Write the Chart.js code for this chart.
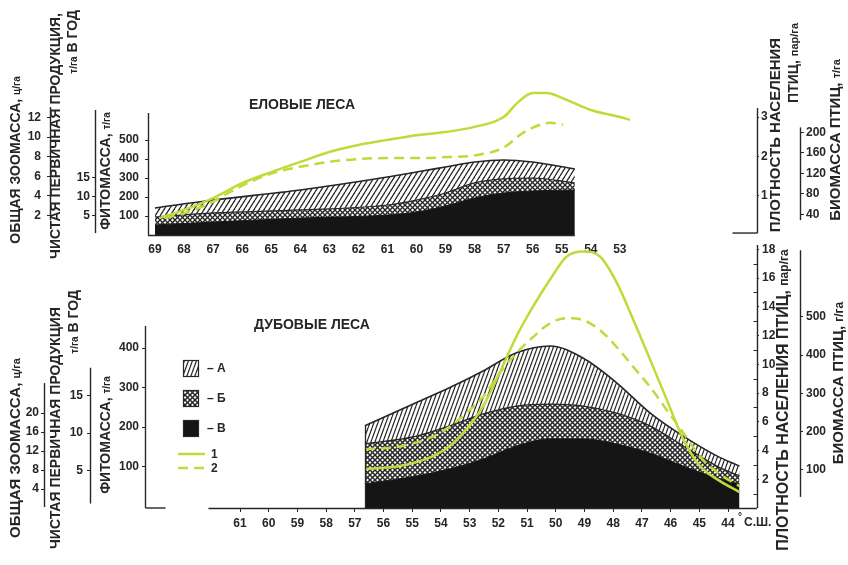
<!DOCTYPE html>
<html lang="ru">
<head>
<meta charset="utf-8">
<title>Еловые и дубовые леса</title>
<script src="https://cdn.jsdelivr.net/npm/chart.js@4.4.1/dist/chart.umd.min.js"></script>
<style>
html,body{margin:0;padding:0;background:#fff;}
body{width:848px;height:565px;position:relative;overflow:hidden;}
.panel{position:absolute;left:0;width:848px;}
#p1{top:0;height:262px;}
#p2{top:230px;height:335px;}
canvas{display:block;}
</style>
</head>
<body>
<div class="panel" id="p1"><canvas id="spruce" width="848" height="262"></canvas></div>
<div class="panel" id="p2"><canvas id="oak" width="848" height="335"></canvas></div>
<script>
// ===================== DATA =====================
// ЕЛОВЫЕ ЛЕСА (spruce forests), latitude in degrees N
const spruceLatTicks = [69,68,67,66,65,64,63,62,61,60,59,58,57,56,55,54,53];
const spruceAreaLat = [69, 67, 64, 61, 60, 59, 58, 57, 56, 54.55];
const spruceA = [142, 184, 237, 305, 332, 358, 384, 395, 384, 347];   // top of А (phytomass, t/ha)
const spruceB = [95, 116, 132, 158, 184, 221, 274, 295, 300, 274];    // top of Б
const spruceV = [53, 68, 89, 105, 121, 153, 195, 221, 232, 237];      // top of В
const spruceDensityLat = [68.85,68,67,66,65,64,63,62,61,60,59,58,57,56.5,56,55.5,55,54,53,52.65];
const spruceDensity = [0.43,0.64,0.94,1.32,1.60,1.86,2.11,2.29,2.42,2.54,2.62,2.75,3.00,3.38,3.61,3.61,3.49,3.18,3.00,2.93];
const spruceBiomassLat = [68.66,67.97,67.11,66.08,64.94,64.01,63.08,62.05,61.02,59.98,58.95,57.92,57.02,56.34,55.75,55.41,54.96];
const spruceBiomass = [33,43,62,94,121,133,142,148,150,150,152,156,170,199,215,219,215];
const spruceZooTicks = [2,4,6,8,10,12];
const spruceProdTicks = [5,10,15];
const sprucePhytoTicks = [100,200,300,400,500];
const spruceDensityTicks = [1,2,3];
const spruceBiomassTicks = [40,80,120,160,200];

// ДУБОВЫЕ ЛЕСА (oak forests)
const oakLatTicks = [61,60,59,58,57,56,55,54,53,52,51,50,49,48,47,46,45,44];
const oakAreaLat = [56.65,54.85,53.69,52.53,51.37,50.2,49.04,47.88,46.72,45.56,44.39,43.6];
const oakA = [203,262,300,342,388,405,374,312,236,177,127,101];
const oakB = [157,177,203,233,253,258,253,235,203,152,101,76];
const oakV = [56,76,94,119,152,170,170,157,134,101,71,56];
const oakLineLat = [56.65,55.43,54.27,53.69,53.11,52.53,51.95,51.37,50.79,50.2,49.62,49.04,48.46,47.88,47.3,46.72,46.14,45.56,44.98,44.39,43.6];
const oakDensity = [2.71,2.92,3.61,4.31,5.49,7.08,9.44,11.94,14.03,15.9,17.5,17.85,17.5,15.7,13.1,10.35,7.57,4.79,2.92,2.01,1.11];
const oakBiomass = [153,161,187,213,249,291,353,405,447,483,496,491,465,421,369,317,257,197,135,94,57];
const oakZooTicks = [4,8,12,16,20];
const oakProdTicks = [5,10,15];
const oakPhytoTicks = [100,200,300,400];
const oakDensityTicks = [2,4,6,8,10,12,14,16,18];
const oakDensityMinor = [1,3,5,7,9,11,13,15,17];
const oakBiomassTicks = [100,200,300,400,500];
const legendLabels = ['– А','– Б','– В','1','2'];

// ===================== STYLE =====================
const FONT = '"Liberation Sans", Arial, Helvetica, sans-serif';
const INK = '#262626';
const GREEN = '#c2d93a';
const BLACK = '#151515';

function hatch(w, h, lw) {
  const c = document.createElement('canvas'); c.width = w; c.height = h;
  const g = c.getContext('2d');
  g.fillStyle = '#fff'; g.fillRect(0, 0, w, h);
  g.strokeStyle = INK; g.lineWidth = lw;
  for (const dx of [-w, 0, w]) { g.beginPath(); g.moveTo(dx, h); g.lineTo(dx + w, 0); g.stroke(); }
  return g.createPattern(c, 'repeat');
}
function cross(s, lw) {
  const c = document.createElement('canvas'); c.width = s; c.height = s;
  const g = c.getContext('2d');
  g.fillStyle = '#fff'; g.fillRect(0, 0, s, s);
  g.strokeStyle = INK; g.lineWidth = lw;
  for (const dx of [-s, 0, s]) {
    g.beginPath(); g.moveTo(dx, s); g.lineTo(dx + s, 0); g.stroke();
    g.beginPath(); g.moveTo(dx, 0); g.lineTo(dx + s, s); g.stroke();
  }
  return g.createPattern(c, 'repeat');
}

function rotText(ctx, x, y, segs, align) {
  ctx.save();
  ctx.translate(x, y);
  ctx.rotate(-Math.PI / 2);
  let total = 0;
  const widths = segs.map(([t, s]) => { ctx.font = `bold ${s}px ${FONT}`; const w = ctx.measureText(t).width; total += w; return w; });
  let cx = align === 'center' ? -total / 2 : (align === 'end' ? -total : 0);
  ctx.textAlign = 'left';
  ctx.textBaseline = 'alphabetic';
  ctx.fillStyle = INK;
  segs.forEach(([t, s], i) => { ctx.font = `bold ${s}px ${FONT}`; ctx.fillText(t, cx, 5); cx += widths[i]; });
  ctx.restore();
}

const decor = {
  id: 'decor',
  afterDraw(chart, _a, o) {
    const ctx = chart.ctx, xs = chart.scales.x, ca = chart.chartArea;
    ctx.save();
    ctx.strokeStyle = INK; ctx.fillStyle = INK; ctx.lineWidth = 1.4;
    if (o.baseline) {
      const yb = Math.round(ca.bottom) + 0.5;
      ctx.beginPath();
      ctx.moveTo(xs.getPixelForValue(o.baseline[0]), yb);
      ctx.lineTo(xs.getPixelForValue(o.baseline[1]), yb);
      ctx.stroke();
    }
    if (o.areaEdge) {
      const ds = chart.data.datasets, top = ds[o.areaEdge.top].data[0], ps = chart.scales.phyto;
      const xe = Math.round(xs.getPixelForValue(top.x)) + 0.5;
      ctx.lineWidth = 1.3;
      ctx.beginPath(); ctx.moveTo(xe, ps.getPixelForValue(top.y)); ctx.lineTo(xe, ca.bottom); ctx.stroke();
    }
    for (const a of o.axisLines) {
      const s = chart.scales[a.id];
      const x = Math.round(s.position === 'left' ? s.right : s.left) + 0.5;
      const y1 = s.getPixelForValue(a.from), y2 = s.getPixelForValue(a.to);
      ctx.lineWidth = 1.4;
      ctx.beginPath(); ctx.moveTo(x, y1); ctx.lineTo(x, y2); ctx.stroke();
      if (a.foot) { ctx.beginPath(); ctx.moveTo(x, y1); ctx.lineTo(x + a.foot, y1); ctx.stroke(); }
      if (a.minor) {
        ctx.lineWidth = 1;
        for (const v of a.minor) {
          const y = Math.round(s.getPixelForValue(v)) + 0.5;
          ctx.beginPath(); ctx.moveTo(x - 4, y); ctx.lineTo(x, y); ctx.stroke();
        }
      }
    }
    for (const t of o.titles) rotText(ctx, t.x, t.y, t.segs, t.align || 'center');
    if (o.heading) {
      ctx.font = `bold 14px ${FONT}`; ctx.textAlign = 'center'; ctx.textBaseline = 'middle';
      ctx.fillText(o.heading.text, o.heading.x, o.heading.y);
    }
    if (o.suffix) {
      const px = xs.getPixelForValue(o.suffix.value);
      const yy = ca.bottom + o.suffix.dy;
      ctx.textAlign = 'left'; ctx.textBaseline = 'middle';
      ctx.font = `bold 10px ${FONT}`; ctx.fillText('°', px + 10, yy - 6);
      ctx.font = `bold 12px ${FONT}`; ctx.fillText(o.suffix.text, px + 16, yy);
    }
    if (o.legend) {
      const L = o.legend, ds = chart.data.datasets;
      ctx.font = `bold 12px ${FONT}`; ctx.textAlign = 'left'; ctx.textBaseline = 'middle';
      L.boxes.forEach((b, i) => {
        const y = L.y + i * L.step;
        ctx.fillStyle = ds[b].backgroundColor; ctx.fillRect(L.x, y, 16, 17);
        ctx.strokeStyle = INK; ctx.lineWidth = 1.2; ctx.strokeRect(L.x + 0.5, y + 0.5, 15, 16);
        ctx.fillStyle = INK; ctx.fillText(legendLabels[i], L.x + 24, y + 9);
      });
      L.lines.forEach((b, j) => {
        const y = L.ly + j * L.lstep;
        ctx.strokeStyle = GREEN; ctx.lineWidth = 2.5;
        ctx.setLineDash(ds[b].borderDash || []);
        ctx.beginPath(); ctx.moveTo(L.x - 5, y); ctx.lineTo(L.x + 22, y); ctx.stroke();
        ctx.setLineDash([]);
        ctx.fillStyle = INK; ctx.fillText(legendLabels[3 + j], L.x + 28, y + 1);
      });
    }
    ctx.restore();
  }
};

function yScale(o) {
  return {
    type: 'linear', position: o.pos, weight: o.weight, min: o.min, max: o.max,
    afterFit: s => { s.width = o.width; },
    afterBuildTicks: s => { s.ticks = o.ticks.map(v => ({ value: v })); },
    ticks: { color: INK, font: { family: FONT, size: 12, weight: 'bold' }, padding: o.pad, autoSkip: false },
    grid: { drawOnChartArea: false, drawTicks: true, tickLength: o.tl || 3, color: INK, lineWidth: 1 },
    border: { display: false }
  };
}
function xScale(o) {
  return {
    type: 'linear', position: 'bottom', reverse: true, min: o.min, max: o.max,
    afterFit: s => { s.height = o.height; },
    afterBuildTicks: s => { s.ticks = o.ticks.map(v => ({ value: v })); },
    ticks: { color: INK, font: { family: FONT, size: 12, weight: 'bold' }, padding: o.pad, autoSkip: false, maxRotation: 0 },
    grid: { drawOnChartArea: false, drawTicks: o.drawTicks, tickLength: 4, color: INK, lineWidth: 1 },
    border: { display: false }
  };
}
const pts = (lat, v) => lat.map((x, i) => ({ x, y: v[i] }));
function lineDs(lat, v, axis, dash) {
  return { data: pts(lat, v), yAxisID: axis, borderColor: GREEN, borderWidth: 2.5, borderDash: dash,
           pointRadius: 0, fill: false, cubicInterpolationMode: 'monotone' };
}
function areaDs(lat, v, fill, bg, bc, bw) {
  return { data: pts(lat, v), yAxisID: 'phyto', backgroundColor: bg, borderColor: bc, borderWidth: bw,
           pointRadius: 0, fill, cubicInterpolationMode: 'monotone' };
}
const common = {
  responsive: false, animation: false, devicePixelRatio: 1, events: [],
};

// ===================== TOP: ЕЛОВЫЕ ЛЕСА =====================
new Chart(document.getElementById('spruce'), {
  type: 'line',
  data: { datasets: [
    lineDs(spruceDensityLat, spruceDensity, 'dens', []),
    lineDs(spruceBiomassLat, spruceBiomass, 'bio', [10, 6]),
    areaDs(spruceAreaLat, spruceV, 'start', BLACK, BLACK, 1),
    areaDs(spruceAreaLat, spruceB, 2, cross(5, 1.3), INK, 1.2),
    areaDs(spruceAreaLat, spruceA, 3, hatch(5, 8, 1.3), INK, 1.6)
  ]},
  options: Object.assign({}, common, {
    layout: { padding: { top: 88, left: 0, right: 0, bottom: 0 } },
    plugins: {
      legend: { display: false }, tooltip: { enabled: false },
      decor: {
        baseline: [69.24, spruceAreaLat[spruceAreaLat.length - 1]],
        axisLines: [
          { id: 'zoo', from: 1.53, to: 13.06 },
          { id: 'prod', from: 0.5, to: 32.9 },
          { id: 'phyto', from: 0, to: 642 },
          { id: 'dens', from: 0.05, to: 3.23, foot: -25 },
          { id: 'bio', from: 29, to: 210 }
        ],
        titles: [
          { x: 15, y: 160, segs: [['ОБЩАЯ ЗООМАССА, ', 14], ['ц/га', 10]] },
          { x: 55, y: 136, segs: [['ЧИСТАЯ ПЕРВИЧНАЯ ПРОДУКЦИЯ,', 14]] },
          { x: 72, y: 10, align: 'end', segs: [['т/га', 10], [' В ГОД', 14]] },
          { x: 105, y: 171, segs: [['ФИТОМАССА, ', 14], ['т/га', 10]] },
          { x: 775, y: 135, segs: [['ПЛОТНОСТЬ НАСЕЛЕНИЯ', 15]] },
          { x: 793, y: 23, align: 'end', segs: [['ПТИЦ, ', 14], ['пар/га', 11]] },
          { x: 835, y: 140, segs: [['БИОМАССА ПТИЦ, ', 15], ['т/га', 11]] }
        ],
        heading: { text: 'ЕЛОВЫЕ ЛЕСА', x: 302, y: 105 }
      }
    },
    scales: {
      x: xScale({ min: 48.28, max: 69.24, ticks: spruceLatTicks, height: 27, pad: 7, drawTicks: false }),
      zoo: yScale({ pos: 'left', weight: 3, width: 50, min: 0, max: 15.0, ticks: spruceZooTicks, pad: 6 }),
      prod: yScale({ pos: 'left', weight: 2, width: 45, min: 0, max: 38.68, ticks: spruceProdTicks, pad: 2 }),
      phyto: yScale({ pos: 'left', weight: 1, width: 53, min: 0, max: 773.7, ticks: sprucePhytoTicks, pad: 6 }),
      dens: yScale({ pos: 'right', weight: 1, width: 43, min: 0, max: 3.74, ticks: spruceDensityTicks, pad: 2, tl: 2 }),
      bio: yScale({ pos: 'right', weight: 2, width: 48, min: 0, max: 286.8, ticks: spruceBiomassTicks, pad: 2, tl: 4 })
    }
  }),
  plugins: [decor]
});

// ===================== BOTTOM: ДУБОВЫЕ ЛЕСА =====================
new Chart(document.getElementById('oak'), {
  type: 'line',
  data: { datasets: [
    lineDs(oakLineLat, oakDensity, 'dens', []),
    lineDs(oakLineLat, oakBiomass, 'bio', [10, 6]),
    areaDs(oakAreaLat, oakV, 'start', BLACK, BLACK, 1),
    areaDs(oakAreaLat, oakB, 2, cross(5, 1.5), INK, 1.3),
    areaDs(oakAreaLat, oakA, 3, hatch(4, 11, 1.2), INK, 1.6)
  ]},
  options: Object.assign({}, common, {
    layout: { padding: { top: 15, left: 0, right: 0, bottom: 0 } },
    plugins: {
      legend: { display: false }, tooltip: { enabled: false },
      decor: {
        baseline: [62.1, 42.99],
        areaEdge: { top: 4 },
        axisLines: [
          { id: 'zoo', from: 0.2, to: 26.3 },
          { id: 'prod', from: 0.6, to: 18.7 },
          { id: 'phyto', from: -5.06, to: 456, foot: 20 },
          { id: 'dens', from: 0, to: 18.3, minor: oakDensityMinor },
          { id: 'bio', from: 29, to: 674 }
        ],
        titles: [
          { x: 15, y: 218, segs: [['ОБЩАЯ ЗООМАССА, ', 15], ['ц/га', 11]] },
          { x: 55, y: 198, segs: [['ЧИСТАЯ ПЕРВИЧНАЯ ПРОДУКЦИЯ', 14]] },
          { x: 73, y: 60, align: 'end', segs: [['т/га', 10], [' В ГОД', 14]] },
          { x: 105, y: 205, segs: [['ФИТОМАССА, ', 14], ['т/га', 10]] },
          { x: 783, y: 170, segs: [['ПЛОТНОСТЬ НАСЕЛЕНИЯ ПТИЦ, ', 16], ['пар/га', 12]] },
          { x: 838, y: 153, segs: [['БИОМАССА ПТИЦ, ', 15], ['г/га', 12]] }
        ],
        heading: { text: 'ДУБОВЫЕ ЛЕСА', x: 312, y: 95 },
        suffix: { value: 44, text: 'С.Ш.', dy: 15 },
        legend: { x: 183, y: 130, step: 30, boxes: [4, 3, 2], ly: 224, lstep: 14, lines: [0, 1] }
      }
    },
    scales: {
      x: xScale({ min: 42.99, max: 64.31, ticks: oakLatTicks, height: 57, pad: 4, drawTicks: true }),
      zoo: yScale({ pos: 'left', weight: 3, width: 44, min: 0, max: 55.37, ticks: oakZooTicks, pad: 2 }),
      prod: yScale({ pos: 'left', weight: 2, width: 46, min: 0, max: 35.07, ticks: oakProdTicks, pad: 4 }),
      phyto: yScale({ pos: 'left', weight: 1, width: 55, min: -5.06, max: 660.8, ticks: oakPhytoTicks, pad: 3 }),
      dens: yScale({ pos: 'right', weight: 1, width: 43, min: 0, max: 18.3, ticks: oakDensityTicks, pad: 3, tl: 2 }),
      bio: yScale({ pos: 'right', weight: 2, width: 48, min: 0, max: 687.6, ticks: oakBiomassTicks, pad: 3, tl: 3 })
    }
  }),
  plugins: [decor]
});
</script>
</body>
</html>
